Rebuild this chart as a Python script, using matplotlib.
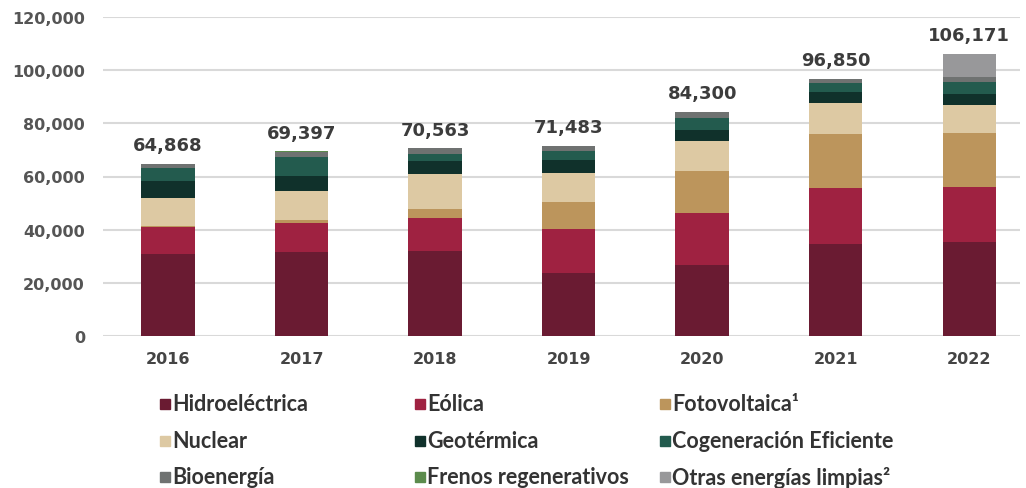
import numpy as np
import matplotlib
matplotlib.use("Agg")
from matplotlib import pyplot as plt
from matplotlib.patches import Rectangle

# generación limpia (GWh)
years = ['2016', '2017', '2018', '2019', '2020', '2021', '2022']
totals = [64868, 69397, 70563, 71483, 84300, 96850, 106171]

hidro = [30800, 31600, 32100, 23600, 26700, 34600, 35350]
eolica = [10200, 10900, 12300, 16600, 19550, 21050, 20550]
fotovoltaica = [200, 1100, 3300, 10100, 15900, 20200, 20430]
nuclear = [10900, 10900, 13200, 10900, 11050, 11650, 10530]
geotermica = [6100, 5700, 5000, 5000, 4370, 4130, 4250]
cogeneracion = [4900, 7100, 2500, 3250, 4280, 3500, 4300]
bioenergia = [1700, 2100, 2150, 2030, 2450, 1720, 1980]
frenos = [5, 5, 5, 5, 5, 5, 5]
otras = [0, 0, 0, 0, 0, 0, 8790]

labels = ['Hidroeléctrica', 'Eólica', 'Fotovoltaica¹',
          'Nuclear', 'Geotérmica', 'Cogeneración Eficiente',
          'Bioenergía', 'Frenos regenerativos', 'Otras energías limpias²']
colors = ['#6a1b32', '#9f2241', '#bc955c',
          '#ddc9a3', '#10312b', '#235b4e',
          '#6f7271', '#5b8b4c', '#98989a']
series = [hidro, eolica, fotovoltaica, nuclear, geotermica,
          cogeneracion, bioenergia, frenos, otras]

fig = plt.figure(figsize=(10.26, 4.89), dpi=100)
ax = fig.add_axes([103 / 1026, 1 - 337 / 489, 917 / 1026, 319 / 489])

x = np.arange(len(years))
bottom = np.zeros(len(years))
for vals, col in zip(series, colors):
    vals = np.array(vals, dtype=float)
    ax.bar(x, vals, width=0.4, bottom=bottom, color=col, zorder=3)
    bottom += vals

for xi, top, tot in zip(x, bottom, totals):
    ax.annotate(f'{tot:,}', (xi, top), xytext=(0, 7), textcoords='offset points',
                ha='center', va='bottom', fontsize=13, fontweight='bold',
                color='#3c3c3c')

ax.set_xlim(-0.487, 6.38)
ax.set_ylim(0, 120000)
ax.set_yticks(np.arange(0, 120001, 20000))
ax.yaxis.set_major_formatter(matplotlib.ticker.FuncFormatter(lambda v, p: f'{int(v):,}'))
ax.set_xticks(x)
ax.set_xticklabels(years)
ax.grid(axis='y', color='#d9d9d9', linewidth=1.5, zorder=0)
ax.set_axisbelow(True)
for s in ax.spines.values():
    s.set_visible(False)
ax.tick_params(axis='y', length=0, pad=13, labelsize=11.5, labelcolor='#555555')
ax.tick_params(axis='x', length=0, pad=11, labelsize=11.5, labelcolor='#444444')
for t in ax.get_yticklabels() + ax.get_xticklabels():
    t.set_fontweight('bold')

# leyenda en 3 columnas
col_x = [160, 415, 660]
row_y = [405, 442, 478]
for i, (lab, col) in enumerate(zip(labels, colors)):
    cx = col_x[i % 3]
    cy = row_y[i // 3]
    fig.add_artist(Rectangle((cx / 1026, 1 - (cy + 5) / 489), 10 / 1026, 10 / 489,
                             transform=fig.transFigure, color=col))
    fig.text((cx + 12) / 1026, 1 - cy / 489, lab, ha='left', va='center',
             fontsize=15.5, fontweight='bold', color='#333333',
             family=['Lato', 'DejaVu Sans'])

fig.savefig('out.png', dpi=100)
